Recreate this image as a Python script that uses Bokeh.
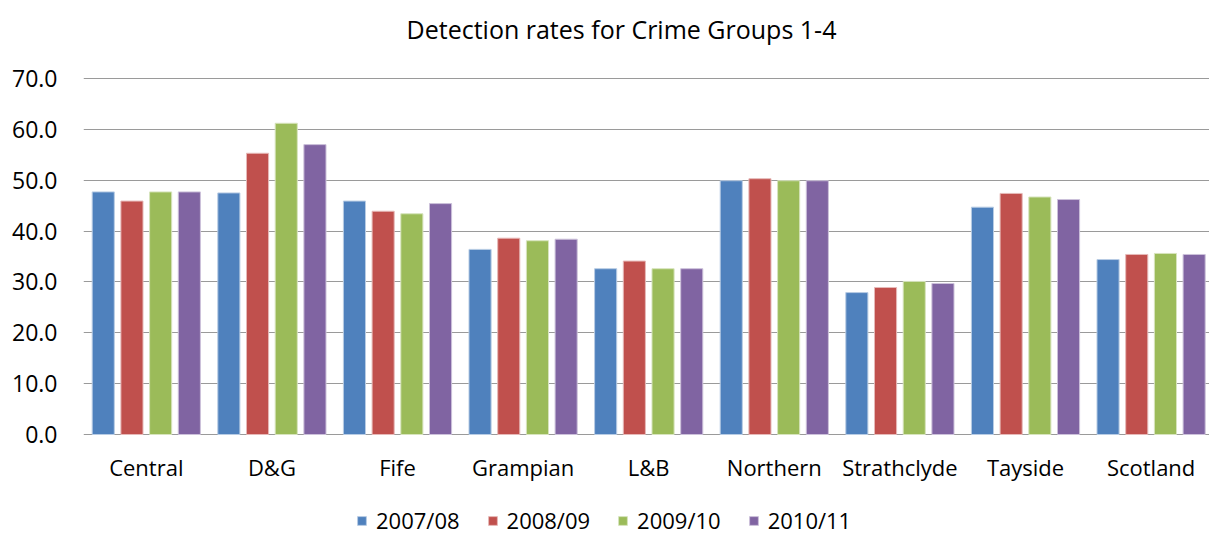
from bokeh.plotting import figure
from bokeh.models import Range1d, FixedTicker, Legend, LegendItem, ColumnDataSource, NumeralTickFormatter
from bokeh.core.properties import value
from bokeh.embed import file_html
from bokeh.resources import INLINE

title = "Detection rates for Crime Groups 1-4"
regions = ["Central", "D&G", "Fife", "Grampian", "L&B", "Northern", "Strathclyde", "Tayside", "Scotland"]
years = ["2007/08", "2008/09", "2009/10", "2010/11"]
rate_2007_08 = [47.7, 47.5, 45.9, 36.4, 32.6, 49.9, 27.9, 44.7, 34.4]
rate_2008_09 = [45.9, 55.3, 43.9, 38.6, 34.1, 50.3, 28.9, 47.4, 35.4]
rate_2009_10 = [47.7, 61.2, 43.4, 38.1, 32.6, 49.9, 30.1, 46.7, 35.6]
rate_2010_11 = [47.7, 57.0, 45.4, 38.4, 32.6, 49.9, 29.7, 46.2, 35.4]
y_ticks = [0, 10, 20, 30, 40, 50, 60, 70]

series = [rate_2007_08, rate_2008_09, rate_2009_10, rate_2010_11]
colors = ["#4F81BD", "#C0504D", "#9BBB59", "#8064A2"]
edge_colors = ["#B8CCE4", "#E6B9B8", "#D7E4BD", "#CCC1DA"]
FONT = "Open Sans"

# frame spans 83..1209 horizontally (125.6 px per category) and the full height;
# value 0 sits at y=434 px and 70 at y=78 px
px_per_unit = (434 - 78) / 70.0
y_lo = -(534 - 434) / px_per_unit
y_hi = 70 + 78 / px_per_unit
p = figure(width=1209, height=534, output_backend="svg", toolbar_location=None,
           x_range=Range1d(0, (1209 - 83) / 125.6), y_range=Range1d(y_lo, y_hi),
           min_border_left=83, min_border_right=0, min_border_top=0, min_border_bottom=0)
p.outline_line_color = None
p.background_fill_color = "white"

p.xgrid.grid_line_color = None
p.ygrid.ticker = FixedTicker(ticks=y_ticks)
p.ygrid.grid_line_color = "#9a9a9a"
p.ygrid.grid_line_width = 1

items = []
step = 0.2285
for k, (vals, col, ec, yr) in enumerate(zip(series, colors, edge_colors, years)):
    xs = [i + 0.5 + (k - 1.5) * step for i in range(len(regions))]
    src = ColumnDataSource(dict(x=xs, top=vals))
    r = p.vbar(x="x", top="top", width=0.176, bottom=0, source=src,
               fill_color=col, line_color=ec, line_width=1)
    items.append(LegendItem(label=yr, renderers=[r]))

# category labels under the baseline (value 0)
centers = [i + 0.5 for i in range(len(regions))]
p.text(x=centers, y=[y_ticks[0]] * len(regions), text=regions, text_align="center",
       text_baseline="middle", y_offset=32, text_font=value(FONT),
       text_font_size="22px", text_color="black")

# chart title above the top gridline
title_x = (621 - 83) / 125.6
p.text(x=[title_x], y=[y_ticks[-1]], text=[title], text_align="center",
       text_baseline="middle", y_offset=-50, text_font=value(FONT),
       text_font_size="25px", text_color="black")

p.xaxis.visible = False

p.yaxis.ticker = FixedTicker(ticks=y_ticks)
p.yaxis.formatter = NumeralTickFormatter(format="0.0")
p.yaxis.axis_line_color = None
p.yaxis.major_tick_line_color = None
p.yaxis.minor_tick_line_color = None
p.yaxis.major_label_text_font = FONT
p.yaxis.major_label_text_font_size = "23px"
p.yaxis.major_label_text_color = "black"
p.yaxis.major_label_standoff = 20

legend = Legend(items=items, orientation="horizontal", location=(273, -1),
                glyph_width=11, glyph_height=11, label_standoff=9, spacing=27,
                padding=0, margin=0, border_line_color=None, background_fill_alpha=0,
                label_text_font=FONT, label_text_font_size="22px", label_text_color="black")
p.add_layout(legend, "center")

open("out.html", "w").write(file_html(p, INLINE))
